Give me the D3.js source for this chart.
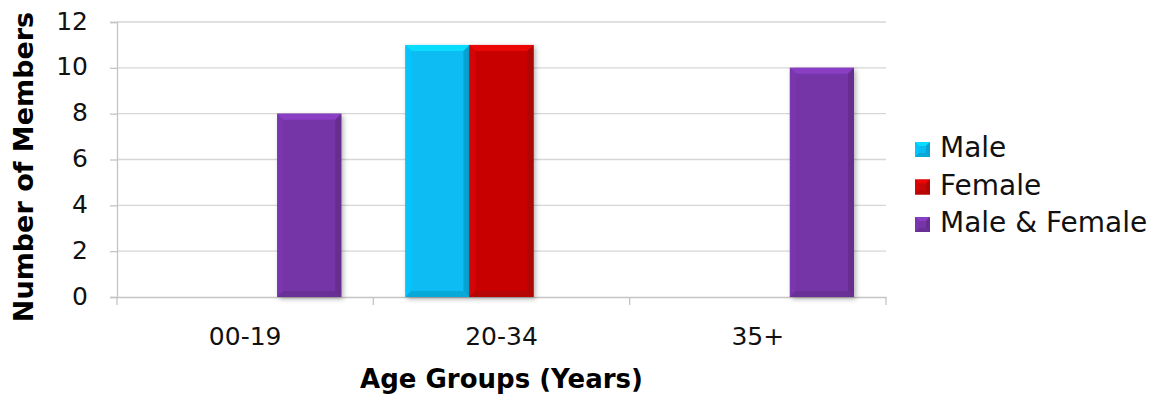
<!DOCTYPE html>
<html>
<head>
<meta charset="utf-8">
<script src="https://cdn.jsdelivr.net/npm/d3@7"></script>
<style>
  html, body { margin: 0; padding: 0; background: #ffffff; }
  svg { display: block; }
  text { font-family: "DejaVu Sans", "Noto Sans", sans-serif; }
</style>
</head>
<body>
<div id="chart"></div>
<script>
// Membership by age group
const categories = ["00-19", "20-34", "35+"];
const seriesNames = ["Male", "Female", "Male & Female"];
const male = [null, 11, null];
const female = [null, 11, null];
const maleFemale = [8, null, 10];
const yTicks = [0, 2, 4, 6, 8, 10, 12];
const seriesColors = ["#08bcf2", "#c90606", "#7535a6"];

const width = 1161, height = 396;
const margin = { left: 117, right: 275, top: 22, bottom: 99 };
const plotW = width - margin.left - margin.right;
const plotH = height - margin.top - margin.bottom;

const svg = d3.select("#chart").append("svg")
  .attr("width", width).attr("height", height);

const defs = svg.append("defs");
const shadow = defs.append("filter").attr("id", "shadow")
  .attr("x", "-20%").attr("y", "-10%").attr("width", "140%").attr("height", "120%");
shadow.append("feDropShadow").attr("dx", 2).attr("dy", 2).attr("stdDeviation", 2.5)
  .attr("flood-color", "#000").attr("flood-opacity", 0.3);

const x0 = d3.scaleBand().domain(categories).range([0, plotW]).padding(0);
const x1 = d3.scaleBand().domain(seriesNames)
  .range([x0.bandwidth() * 0.125, x0.bandwidth() * 0.875]).padding(0);
const y = d3.scaleLinear().domain([0, 12]).range([plotH, 0]);

const g = svg.append("g").attr("transform", `translate(${margin.left},${margin.top})`);

// gridlines
g.append("g").selectAll("line").data(yTicks.slice(1)).join("line")
  .attr("x1", 0).attr("x2", plotW)
  .attr("y1", d => y(d)).attr("y2", d => y(d))
  .attr("stroke", "#d6d6d6").attr("stroke-width", 1.3);

// y axis
const yAxis = g.append("g").call(d3.axisLeft(y).tickValues(yTicks).tickSize(7).tickPadding(22).tickFormat(d3.format("d")));
yAxis.select(".domain").attr("stroke", "#c4c4c4").attr("stroke-width", 1.3);
yAxis.selectAll(".tick line").attr("stroke", "#c4c4c4").attr("stroke-width", 1.3);
yAxis.selectAll("text").attr("font-size", 25).attr("fill", "#111").attr("dy", "0.28em");

// x axis
const xAxis = g.append("g").attr("transform", `translate(0,${plotH})`)
  .call(d3.axisBottom(x0).tickSize(0).tickPadding(30));
xAxis.select(".domain").attr("stroke", "#c4c4c4").attr("stroke-width", 1.3);
xAxis.selectAll("text").attr("font-size", 25).attr("fill", "#111");
// boundary ticks between categories
const bounds = d3.range(categories.length + 1).map(i => i * x0.step());
xAxis.append("g").selectAll("line").data(bounds).join("line")
  .attr("x1", d => d).attr("x2", d => d).attr("y1", 0).attr("y2", 8)
  .attr("stroke", "#c4c4c4").attr("stroke-width", 1.3);

// bars with beveled edges
const seriesValues = [male, female, maleFemale];
const bars = [];
categories.forEach((c, ci) => {
  seriesNames.forEach((s, si) => {
    const v = seriesValues[si][ci];
    if (v != null) bars.push({ c, s, v, color: seriesColors[si] });
  });
});

function bevelBar(sel, x, yTop, w, h, color, b, withShadow) {
  const col = d3.color(color);
  const r = sel.append("rect").attr("x", x).attr("y", yTop).attr("width", w).attr("height", h)
    .attr("fill", color);
  if (withShadow) r.attr("filter", "url(#shadow)");
  const pts = (arr) => arr.map(p => p.join(",")).join(" ");
  const x2 = x + w, y2 = yTop + h;
  // top face
  sel.append("polygon").attr("points", pts([[x, yTop], [x2, yTop], [x2 - b, yTop + b], [x + b, yTop + b]]))
    .attr("fill", col.brighter(0.45));
  // left face
  sel.append("polygon").attr("points", pts([[x, yTop], [x + b, yTop + b], [x + b, y2 - b], [x, y2]]))
    .attr("fill", col.brighter(0.12));
  // right face
  sel.append("polygon").attr("points", pts([[x2, yTop], [x2, y2], [x2 - b, y2 - b], [x2 - b, yTop + b]]))
    .attr("fill", col.darker(0.4));
  // bottom face
  sel.append("polygon").attr("points", pts([[x, y2], [x + b, y2 - b], [x2 - b, y2 - b], [x2, y2]]))
    .attr("fill", col.darker(0.3));
}

const barG = g.append("g");
bars.forEach(d => {
  const bx = x0(d.c) + x1(d.s);
  bevelBar(barG.append("g"), bx, y(d.v), x1.bandwidth(), plotH - y(d.v), d.color, 6, true);
});

// axis titles
svg.append("text").attr("x", margin.left + plotW / 2).attr("y", 388)
  .attr("text-anchor", "middle").attr("font-size", 26).attr("font-weight", 700)
  .attr("fill", "#000").text("Age Groups (Years)");
svg.append("text")
  .attr("transform", `translate(33,167) rotate(-90)`)
  .attr("text-anchor", "middle").attr("font-size", 27).attr("font-weight", 700)
  .attr("fill", "#000").text("Number of Members");

// legend
const legend = svg.append("g").attr("transform", "translate(915,157)");
seriesNames.forEach((s, i) => {
  const lg = legend.append("g").attr("transform", `translate(0,${i * 37.5})`);
  bevelBar(lg, 0, -15, 15, 15, seriesColors[i], 4, false);
  lg.append("text").attr("x", 25).attr("y", 0).attr("font-size", 28)
    .attr("fill", "#111").text(s);
});
</script>
</body>
</html>
